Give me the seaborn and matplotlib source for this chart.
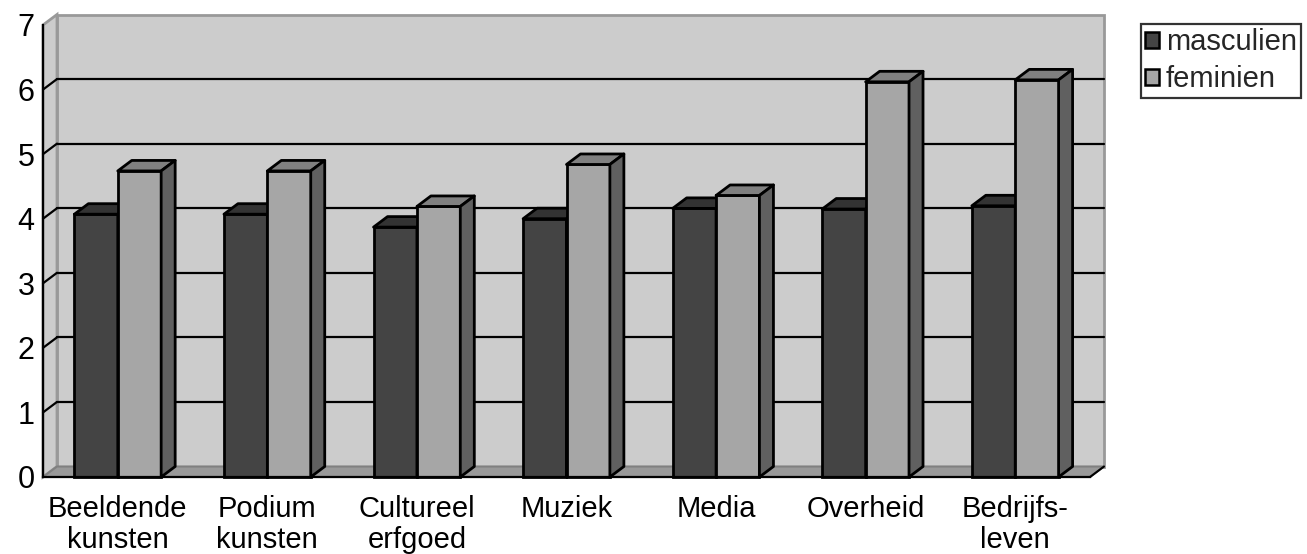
import numpy as np
import pandas as pd
import seaborn as sns
import matplotlib
matplotlib.use("Agg")
import matplotlib.pyplot as plt
from matplotlib.patches import Polygon, Rectangle, Patch
from matplotlib.lines import Line2D

# ---- data ----
categories = ["Beeldende\nkunsten", "Podium\nkunsten", "Cultureel\nerfgoed",
              "Muziek", "Media", "Overheid", "Bedrijfs-\nleven"]
masculien = [4.07, 4.07, 3.87, 4.00, 4.16, 4.15, 4.20]
feminien = [4.74, 4.74, 4.19, 4.84, 4.36, 6.12, 6.15]
series = ["masculien", "feminien"]
yticks = [0, 1, 2, 3, 4, 5, 6, 7]

# ---- style ----
sns.set_style("white")
plt.rcParams['font.family'] = ['Liberation Sans', 'DejaVu Sans']
FS = 21

front_cols = {"masculien": "#444444", "feminien": "#a6a6a6"}
top_cols = {"masculien": "#333333", "feminien": "#808080"}
side_cols = {"masculien": "#2a2a2a", "feminien": "#606060"}

df = pd.DataFrame({
    "categorie": categories * 2,
    "waarde": masculien + feminien,
    "geslacht": [series[0]] * len(categories) + [series[1]] * len(categories),
})

W_PX, H_PX = 1307, 554
fig = plt.figure(figsize=(W_PX / 100, H_PX / 100), dpi=100)
ax_left, ax_right, ax_top, ax_bot = 43, 1090, 25, 477
ax = fig.add_axes([ax_left / W_PX, (H_PX - ax_bot) / H_PX,
                   (ax_right - ax_left) / W_PX, (ax_bot - ax_top) / H_PX])

sns.barplot(data=df, x="categorie", y="waarde", hue="geslacht",
            palette=[front_cols[s] for s in series], hue_order=series,
            width=0.58, gap=0, saturation=1, errorbar=None,
            edgecolor="black", linewidth=2.0, ax=ax, legend=False)

n = len(categories)
ymax = yticks[-1]
ax.set_xlim(-0.5, n - 0.5)
ax.set_ylim(0, ymax)
ax.patch.set_visible(False)

# depth offset in data units
xu = n / (ax_right - ax_left)
yu = ymax / (ax_bot - ax_top)
dx, dy = 14 * xu, 10.5 * yu
x0, x1 = -0.5, n - 0.5

wall = "#cccccc"
wall_edge = "#999999"
# back wall
ax.add_patch(Rectangle((x0 + dx, dy), x1 - x0, ymax, facecolor=wall,
                       edgecolor=wall_edge, lw=2, zorder=0.2, clip_on=False))
# left wall
ax.add_patch(Polygon([(x0, 0), (x0 + dx, dy), (x0 + dx, ymax + dy), (x0, ymax)],
                     closed=True, facecolor=wall, edgecolor=wall_edge, lw=2,
                     zorder=0.25, clip_on=False))
# floor
ax.add_patch(Polygon([(x0, 0), (x1, 0), (x1 + dx, dy), (x0 + dx, dy)],
                     closed=True, facecolor="#999999", edgecolor="#808080", lw=1.5,
                     zorder=0.3, clip_on=False))
ax.add_line(Line2D([x1, x1 + dx], [0, dy], color="black", lw=1.5,
                   zorder=0.35, clip_on=False))
# gridlines on back + left wall
for yv in yticks[1:-1]:
    ax.add_line(Line2D([x0 + dx, x1 + dx], [yv + dy, yv + dy], color="black",
                       lw=1.6, zorder=0.4, clip_on=False))
    ax.add_line(Line2D([x0, x0 + dx], [yv, yv + dy], color="black",
                       lw=1.6, zorder=0.4, clip_on=False))

# 3D faces of the bars
for k, cont in enumerate(ax.containers):
    s = series[k]
    z = 2 + k
    for bar in cont:
        bar.set_zorder(z)
        bar.set_clip_on(False)
        x, w, h = bar.get_x(), bar.get_width(), bar.get_height()
        ax.add_patch(Polygon([(x, h), (x + w, h), (x + w + dx, h + dy), (x + dx, h + dy)],
                             closed=True, facecolor=top_cols[s], edgecolor="black",
                             lw=2.0, zorder=z, clip_on=False, joinstyle="round"))
        ax.add_patch(Polygon([(x + w, 0), (x + w + dx, dy), (x + w + dx, h + dy), (x + w, h)],
                             closed=True, facecolor=side_cols[s], edgecolor="black",
                             lw=2.0, zorder=z, clip_on=False, joinstyle="round"))

# axes / ticks
for sp in ["top", "right"]:
    ax.spines[sp].set_visible(False)
for sp in ["left", "bottom"]:
    ax.spines[sp].set_color("black")
    ax.spines[sp].set_linewidth(1.6)
    ax.spines[sp].set_zorder(5)

ax.set_yticks(yticks)
ax.set_yticklabels([str(v) for v in yticks], fontsize=22)
ax.tick_params(axis="y", direction="out", length=4, width=1.6, pad=2, colors="black")

ax.set_xticks(np.arange(n + 1) - 0.5)
ax.set_xticklabels([])
ax.set_xticks(np.arange(n), minor=True)
ax.set_xticklabels(categories, minor=True, fontsize=FS, linespacing=1.12)
ax.tick_params(axis="x", which="major", direction="out", length=6, width=1.6, colors="black")
ax.tick_params(axis="x", which="minor", length=0, pad=13, colors="black")
ax.set_xlabel("")
ax.set_ylabel("")

# legend
handles = [Patch(facecolor=front_cols[s], edgecolor="black", lw=1.8, label=s) for s in series]
leg = fig.legend(handles=handles, loc="upper left",
                 bbox_to_anchor=(1141 / W_PX, 1 - 24 / H_PX), bbox_transform=fig.transFigure,
                 fontsize=FS, frameon=True, fancybox=False, borderaxespad=0,
                 borderpad=0.15, handlelength=0.45, handleheight=0.45,
                 handletextpad=0.25, labelspacing=0.3)
leg.get_frame().set_edgecolor("black")
leg.get_frame().set_linewidth(1.6)

fig.savefig("out.png", dpi=100)
